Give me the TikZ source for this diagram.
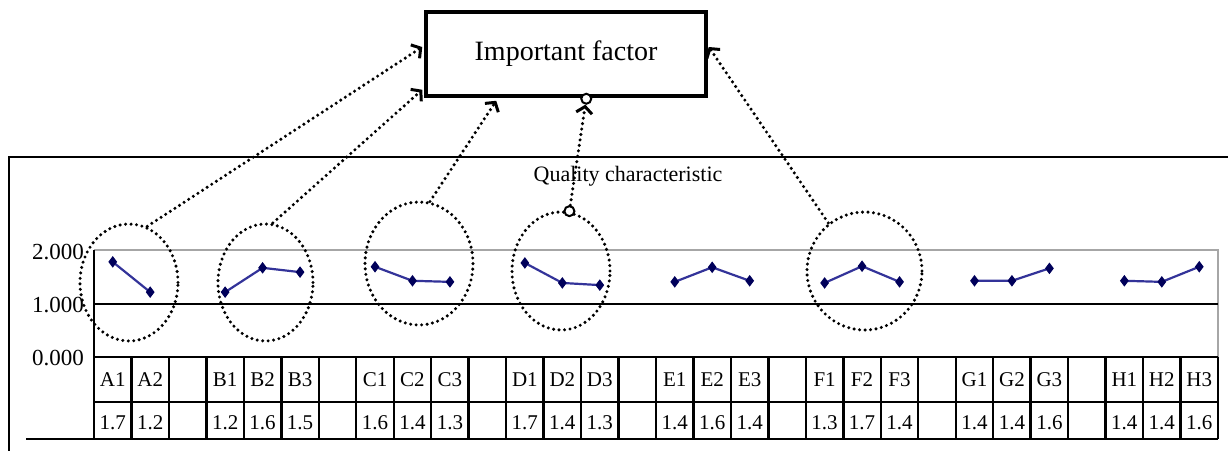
\documentclass[tikz,border=0pt]{standalone}
\usepackage{fontspec}
\setmainfont{Liberation Serif}
\usetikzlibrary{arrows.meta,shapes.geometric,calc,plotmarks}

\definecolor{seriesblue}{RGB}{51,51,153}
\definecolor{markernavy}{RGB}{0,0,90}

\tikzset{
  factorbox/.style={draw, line width=3.5pt, minimum width=280pt, minimum height=84pt, inner sep=0pt,
    font=\fontsize{28}{32}\selectfont},
  group/.style={ellipse, draw, inner sep=0pt, line width=3.4pt, dash pattern=on 0pt off 5.5pt, line cap=round},
  link/.style={line width=3.4pt, dash pattern=on 0pt off 5.5pt, line cap=round,
    -{Straight Barb[length=6.5pt,width=16pt,line width=3pt]}},
  opencirc/.style={circle, draw, fill=white, line width=2pt, minimum size=10pt, inner sep=0pt},
  frame/.style={line width=2pt},
  grid/.style={line width=2.4pt},
  cell/.style={font=\fontsize{21}{24}\selectfont, inner sep=0pt},
  axislabel/.style={font=\fontsize{23}{26}\selectfont, inner sep=0pt, anchor=east},
  series/.style={seriesblue, line width=2.2pt, mark=diamond*, mark size=5pt,
    mark options={solid, fill=markernavy, draw=markernavy, line width=1pt}},
}

\begin{document}
\begin{tikzpicture}[x=1pt, y=-1pt]
\useasboundingbox (0,0) rectangle (1228,451);

% title box
\node[factorbox] (box) at (566,54) {Important factor};

% outer chart frame
\draw[frame] (1228,157) -- (9,157) -- (9,451);
\node[font=\fontsize{22}{26}\selectfont, inner sep=0pt] (qtitle) at (628,176) {Quality characteristic};

% plot area
\draw[line width=2pt, gray!70] (94,250) -- (1218,250) -- (1218,357);
\draw[line width=2.4pt] (94,250) -- (94,357);
\draw[line width=2.4pt] (94,304) -- (1218,304);

% axis labels
\node[axislabel] (y2) at (84,252) {2.000};
\node[axislabel] (y1) at (84,305) {1.000};
\node[axislabel] (y0) at (84,358) {0.000};

% table grid
\def\colw{37.4667}
\draw[grid] (94,357) -- (1218,357);
\draw[grid] (94,402) -- (1218,402);
\draw[grid] (26,439) -- (1218,439);
\foreach \k in {0,...,30} {
  \draw[grid] ({94+\k*\colw},357) -- ({94+\k*\colw},439);
}
\foreach \lab [count=\i from 0] in {A1,A2,,B1,B2,B3,,C1,C2,C3,,D1,D2,D3,,E1,E2,E3,,F1,F2,F3,,G1,G2,G3,,H1,H2,H3} {
  \node[cell] (lab\i) at ({94+(\i+0.5)*\colw},380) {\lab};
}
\foreach \val [count=\i from 0] in {1.7,1.2,,1.2,1.6,1.5,,1.6,1.4,1.3,,1.7,1.4,1.3,,1.4,1.6,1.4,,1.3,1.7,1.4,,1.4,1.4,1.6,,1.4,1.4,1.6} {
  \node[cell] (val\i) at ({94+(\i+0.5)*\colw},423) {\val};
}

% data series: column index on x, value above 1.000 on y
\begin{scope}[shift={(94,304)}, x=37.4667pt, y=54pt]
  \draw[series] plot coordinates {(0.5,0.78) (1.5,0.22)};
  \draw[series] plot coordinates {(3.5,0.22) (4.5,0.67) (5.5,0.59)};
  \draw[series] plot coordinates {(7.5,0.69) (8.5,0.43) (9.5,0.41)};
  \draw[series] plot coordinates {(11.5,0.76) (12.5,0.39) (13.5,0.35)};
  \draw[series] plot coordinates {(15.5,0.41) (16.5,0.68) (17.5,0.43)};
  \draw[series] plot coordinates {(19.5,0.39) (20.5,0.70) (21.5,0.41)};
  \draw[series] plot coordinates {(23.5,0.43) (24.5,0.43) (25.5,0.66)};
  \draw[series] plot coordinates {(27.5,0.43) (28.5,0.41) (29.5,0.69)};
\end{scope}

% dotted groups
\node[group, minimum width=98pt, minimum height=117pt] (ellA) at (129,282.5) {};
\node[group, minimum width=95pt, minimum height=117pt] (ellB) at (265.5,282.5) {};
\node[group, minimum width=108pt, minimum height=123pt] (ellC) at (419,263.5) {};
\node[group, minimum width=98pt, minimum height=118pt] (ellD) at (561,271) {};
\node[group, minimum width=115pt, minimum height=118pt] (ellF) at (864.5,271) {};

% connectors to the box
\coordinate (tA) at ([xshift=-2pt,yshift=7pt]box.west);
\coordinate (tB) at ([xshift=-2pt,yshift=8pt]box.south west);
\coordinate (tC) at ([xshift=72pt,yshift=-3pt]box.south west);
\coordinate (tF) at ([xshift=1pt,yshift=7pt]box.east);
\draw[link] (ellA.72) -- (tA);
\draw[link] (ellB.83) -- (tB);
\draw[link] (ellC.80) -- (tC);
\draw[link] (ellF.127) -- (tF);
\node[opencirc] (dS) at (ellD.82) {};
\node[opencirc] (dE) at ([xshift=162pt,yshift=-1pt]box.south west) {};
\draw[link] (dS) -- (dE);
\end{tikzpicture}
\end{document}
